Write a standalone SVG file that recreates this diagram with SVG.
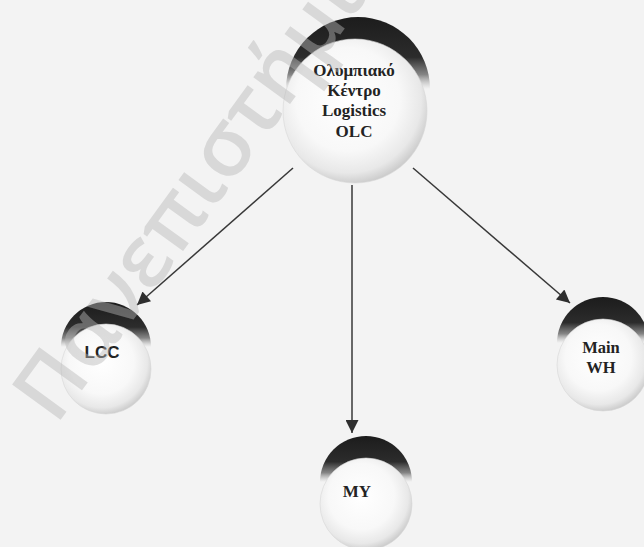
<svg xmlns="http://www.w3.org/2000/svg" width="644" height="547" viewBox="0 0 644 547">
  <defs>
    <style>
      .body { fill: url(#bodyGrad); stroke: #d6d6d6; stroke-width: 0.6; }
      .cap { fill: url(#capGrad); }
      .serif { font-family: "Liberation Serif", "Times New Roman", serif; font-weight: bold; fill: #232323; text-anchor: middle; }
      .sans { font-family: "Liberation Sans", Arial, sans-serif; font-weight: bold; fill: #232323; text-anchor: middle; }
      .conn { stroke: #383838; stroke-width: 1.5; fill: none; marker-end: url(#arrow); }
      .wm { font-family: "Open Sans", "Noto Sans", sans-serif; font-weight: 600; fill: #b8b8b8; opacity: 0.45; }
    </style>
    <radialGradient id="bodyGrad" cx="0.45" cy="0.42" r="0.6">
      <stop offset="0" stop-color="#ffffff"/>
      <stop offset="0.6" stop-color="#f8f8f8"/>
      <stop offset="0.85" stop-color="#e8e8e8"/>
      <stop offset="1" stop-color="#c8c8c8"/>
    </radialGradient>
    <linearGradient id="capGrad" x1="0" y1="0" x2="0" y2="1">
      <stop offset="0" stop-color="#1c1c1c"/>
      <stop offset="0.28" stop-color="#2c2c2c"/>
      <stop offset="0.4" stop-color="#606060" stop-opacity="0.75"/>
      <stop offset="0.5" stop-color="#a0a0a0" stop-opacity="0"/>
    </linearGradient>
    <marker id="arrow" viewBox="0 0 10 10" refX="10" refY="5" markerUnits="userSpaceOnUse" markerWidth="16" markerHeight="13" orient="auto">
      <path d="M0,0 L10,5 L0,10 z" fill="#2e2e2e"/>
    </marker>
  </defs>
  <rect width="644" height="547" fill="#f3f3f3"/>

  <g id="connectors">
    <line class="conn" x1="293" y1="168" x2="137" y2="305"/>
    <line class="conn" x1="352" y1="185" x2="352" y2="433"/>
    <line class="conn" x1="413" y1="168" x2="570" y2="303"/>
  </g>

  <g id="node-olc">
    <circle class="cap" cx="358" cy="89" r="72"/>
    <circle class="body" cx="355" cy="111" r="72"/>
    <text class="serif" font-size="17" x="354" y="76">Ολυμπιακό</text>
    <text class="serif" font-size="17" x="354" y="96">Κέντρο</text>
    <text class="serif" font-size="17" x="354" y="116">Logistics</text>
    <text class="serif" font-size="17" x="354" y="137">OLC</text>
  </g>

  <g id="node-lcc">
    <circle class="cap" cx="106" cy="347" r="45"/>
    <circle class="body" cx="106" cy="369" r="45"/>
    <text class="sans" font-size="17" x="102" y="358">LCC</text>
  </g>

  <g id="node-my">
    <circle class="cap" cx="366" cy="482" r="46"/>
    <circle class="body" cx="366" cy="504" r="46"/>
    <text class="serif" font-size="17" x="357" y="497">MY</text>
  </g>

  <g id="node-mainwh">
    <circle class="cap" cx="603" cy="343" r="46"/>
    <circle class="body" cx="603" cy="365" r="46"/>
    <text class="serif" font-size="16.5" x="601" y="353">Main</text>
    <text class="serif" font-size="16.5" x="601" y="373">WH</text>
  </g>

  <g id="watermark">
    <text class="wm" font-size="84" transform="translate(56,426) rotate(-54)">Πανεπιστήμιο</text>
  </g>
</svg>
